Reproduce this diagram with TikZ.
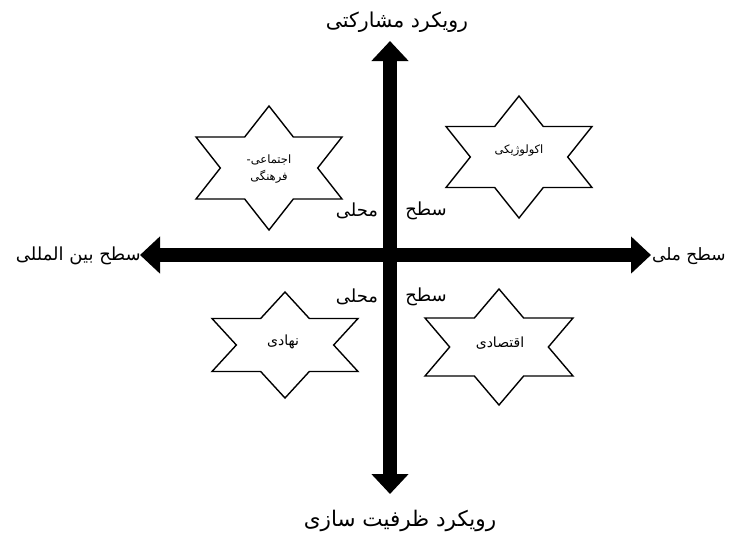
\documentclass[tikz,border=0pt]{standalone}
\usepackage{fontspec}
\newfontfamily\arabicfont[Script=Arabic]{DejaVu Sans}
\TeXXeTstate=1
\usetikzlibrary{arrows.meta}
\newcommand{\hexstar}[4]{%
  \begin{scope}[shift={(#1,#2)}]
  \draw[starline] (0,-#3) -- (#4/3,-#3/2) -- (#4,-#3/2) -- (2*#4/3,0) -- (#4,#3/2) -- (#4/3,#3/2) -- (0,#3) -- (-#4/3,#3/2) -- (-#4,#3/2) -- (-2*#4/3,0) -- (-#4,-#3/2) -- (-#4/3,-#3/2) -- cycle;
  \end{scope}}
\begin{document}
\begin{tikzpicture}[x=1pt,y=-1pt,
  axisline/.style={line width=14pt,{Triangle[width=36pt,length=20pt]}-{Triangle[width=36pt,length=20pt]}},
  starline/.style={line width=1.4pt,line join=miter,fill=white},
  biglabel/.style={font=\arabicfont\fontsize{18}{21}\selectfont,inner sep=0pt},
  smalllabel/.style={font=\arabicfont\fontsize{11.5}{17}\selectfont,inner sep=0pt,align=center}]
\useasboundingbox[fill=white] (0,0) rectangle (729,539);
% axes
\coordinate (top) at (390,41);
\coordinate (bot) at (390,494);
\coordinate (lft) at (140,255);
\coordinate (rgt) at (651,255);
\draw[axisline] (bot) -- (top);
\draw[axisline] (lft) -- (rgt);
% stars
\hexstar{269}{168}{62}{73}
\hexstar{519}{157}{61}{73}
\hexstar{285}{345}{53}{73}
\hexstar{499}{347}{58}{74}
\node[smalllabel] (s1) at (269,169) {\beginR اجتماعی-\endR\\\beginR فرهنگی\endR};
\node[smalllabel] (s2) at (519,151) {\beginR اکولوژیکی\endR};
\node[smalllabel,font=\arabicfont\fontsize{14}{16}\selectfont] (s3) at (283,342) {\beginR نهادی\endR};
\node[smalllabel,font=\arabicfont\fontsize{14}{16}\selectfont] (s4) at (500,343) {\beginR اقتصادی\endR};
% axis labels
\node[biglabel,font=\arabicfont\fontsize{20.5}{24}\selectfont] (tl) at (397,22) {\beginR رویکرد مشارکتی\endR};
\node[biglabel,font=\arabicfont\fontsize{21.5}{25}\selectfont] (bl) at (400,521) {\beginR رویکرد ظرفیت سازی\endR};
\node[biglabel,anchor=east] (ll) at (141,256) {\beginR سطح بین المللی\endR};
\node[biglabel,anchor=west,font=\arabicfont\fontsize{17}{20}\selectfont] (rl) at (652,256) {\beginR سطح ملی\endR};
\node[biglabel] (n1) at (426,211) {\beginR سطح\endR};
\node[biglabel] (n2) at (357,211) {\beginR محلی\endR};
\node[biglabel] (n3) at (426,297) {\beginR سطح\endR};
\node[biglabel] (n4) at (357,297) {\beginR محلی\endR};
\end{tikzpicture}
\end{document}
